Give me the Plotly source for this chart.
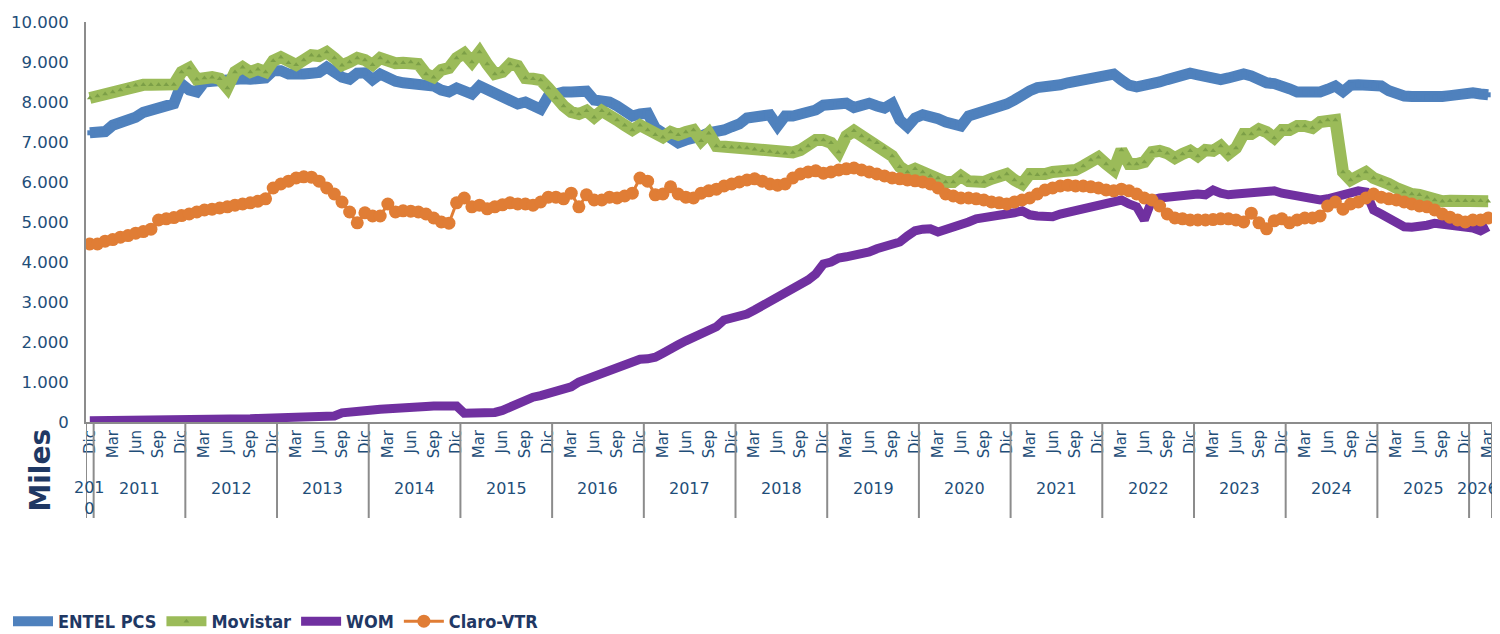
import plotly.graph_objects as go

# ---------------- data (thousands of lines, "Miles") ----------------
MONTHS = ["Ene", "Feb", "Mar", "Abr", "May", "Jun", "Jul", "Ago", "Sep", "Oct", "Nov", "Dic"]
YEARS = [2011, 2012, 2013, 2014, 2015, 2016, 2017, 2018, 2019, 2020, 2021, 2022, 2023, 2024, 2025]
periods = [("2010", "Dic")] + [(str(y), m) for y in YEARS for m in MONTHS] + [("2026", "Ene"), ("2026", "Feb"), ("2026", "Mar")]

entel = [7230,
         7250, 7260, 7420, 7470, 7560, 7620, 7740, 7810, 7860, 7910, 7960, 8450,
         8300, 8250, 8500, 8520, 8550, 8560, 8560, 8580, 8570, 8560, 8600, 8780,
         8780, 8700, 8680, 8700, 8720, 8740, 8870, 8700, 8620, 8570, 8720, 8730,
         8560, 8700, 8600, 8520, 8480, 8470, 8470, 8460, 8400, 8300, 8250, 8350,
         8300, 8200, 8400, 8320, 8250, 8150, 8050, 7950, 8000, 7900, 7820, 8150,
         8230, 8250, 8250, 8260, 8270, 8050, 8030, 8000, 7900, 7750, 7650, 7700,
         7720, 7350, 7200, 7050, 6980, 7050, 7080, 7150, 7230, 7250, 7300, 7380,
         7450, 7600, 7620, 7650, 7680, 7400, 7650, 7650, 7680, 7720, 7800, 7920,
         7950, 7960, 7970, 7860, 7900, 7970, 7900, 7850, 7960, 7550, 7380, 7600,
         7680, 7650, 7580, 7500, 7450, 7400, 7650, 7700, 7750, 7800, 7870, 7950,
         8050, 8200, 8280, 8360, 8380, 8350, 8430, 8480, 8520, 8560, 8620, 8630,
         8670, 8700, 8550, 8420, 8380, 8400, 8470, 8500, 8560, 8620, 8680, 8720,
         8680, 8620, 8600, 8560, 8600, 8650, 8700, 8650, 8560, 8480, 8460, 8420,
         8330, 8250, 8230, 8230, 8250, 8320, 8400, 8260, 8420, 8430, 8430, 8420,
         8400, 8280, 8180, 8150, 8140, 8130, 8120, 8120, 8140, 8160, 8200, 8240,
         8230, 8200, 8180]

movistar = [8100,
            8150, 8200, 8250, 8300, 8380, 8420, 8430, 8430, 8430, 8430, 8440, 8750,
            8850, 8570, 8600, 8620, 8580, 8350, 8750, 8870, 8750, 8820, 8750, 9030,
            9120, 8980, 8930, 9050, 9170, 9150, 9250, 9100, 8920, 9000, 9100, 9050,
            8930, 9100, 9000, 8970, 8980, 9000, 8950, 8700, 8620, 8800, 8850, 9100,
            9220, 9000, 9250, 8950, 8700, 8750, 8950, 8900, 8600, 8580, 8550, 8350,
            8100, 7900, 7750, 7700, 7780, 7620, 7780, 7700, 7550, 7420, 7300, 7420,
            7300, 7180, 7120, 7250, 7180, 7250, 7300, 7030, 7220, 6900, 6880, 6870,
            6870, 6850, 6820, 6780, 6760, 6730, 6720, 6740, 6800, 6900, 7050, 7050,
            6980, 6750, 7150, 7280, 7150, 7050, 6980, 6850, 6650, 6380, 6250, 6330,
            6250, 6150, 6100, 6000, 6000, 6150, 6020, 6000, 6000, 6080, 6120, 6200,
            6050, 5950, 6200, 6180, 6200, 6250, 6250, 6300, 6300, 6400, 6550, 6620,
            6450, 6300, 6800, 6450, 6450, 6500, 6750, 6780, 6720, 6600, 6700, 6780,
            6650, 6800, 6780, 6900, 6700, 6850, 7200, 7200, 7320, 7250, 7100, 7300,
            7300, 7400, 7400, 7350, 7500, 7550, 7550, 6250, 6050, 6150, 6250, 6100,
            6050, 5950, 5850, 5750, 5700, 5680, 5620, 5550, 5520, 5530, 5530, 5530,
            5530, 5530, 5520]

wom = [30,
       30, 35, 35, 40, 40, 40, 40, 45, 45, 45, 45, 50,
       50, 50, 55, 55, 60, 65, 70, 75, 80, 90, 95, 100,
       105, 110, 115, 120, 125, 130, 140, 150, 230, 260, 270, 280,
       300, 320, 340, 350, 360, 370, 380, 390, 400, 410, 410, 400,
       220, 220, 220, 230, 240, 290, 380, 450, 550, 620, 660, 720,
       760, 820, 880, 1000, 1070, 1130, 1200, 1250, 1320, 1400, 1480, 1570,
       1580, 1620, 1720, 1850, 1930, 2030, 2130, 2220, 2300, 2380, 2550, 2600,
       2630, 2700, 2800, 2900, 3000, 3100, 3250, 3350, 3450, 3550, 3700, 3950,
       4000, 4100, 4130, 4160, 4180, 4250, 4330, 4380, 4430, 4500, 4650, 4780,
       4820, 4830, 4750, 4800, 4850, 4900, 5000, 5080, 5100, 5130, 5170, 5200,
       5230, 5280, 5180, 5150, 5120, 5130, 5200, 5250, 5270, 5300, 5350, 5400,
       5450, 5500, 5550, 5450, 5380, 5050, 5550, 5600, 5620, 5650, 5680, 5720,
       5700, 5680, 5800, 5720, 5680, 5700, 5720, 5750, 5740, 5740, 5780, 5720,
       5680, 5650, 5620, 5580, 5550, 5580, 5620, 5680, 5720, 5780, 5750, 5300,
       5200, 5100, 4950, 4880, 4870, 4880, 4920, 4970, 4950, 4920, 4930, 4920,
       4850, 4780, 4880]

claro = [4450,
         4450, 4520, 4560, 4620, 4660, 4720, 4760, 4820, 5050, 5080, 5110, 5160,
         5200, 5250, 5300, 5320, 5350, 5380, 5420, 5450, 5480, 5520, 5580, 5850,
         5950, 6020, 6100, 6130, 6120, 6020, 5850, 5700, 5500, 5250, 4980, 5230,
         5150, 5150, 5450, 5250, 5280, 5270, 5250, 5200, 5100, 5000, 4970, 5480,
         5600, 5380, 5420, 5330, 5380, 5430, 5480, 5450, 5450, 5420, 5500, 5620,
         5620, 5580, 5720, 5380, 5680, 5550, 5550, 5620, 5600, 5650, 5720, 6100,
         6020, 5680, 5700, 5880, 5700, 5620, 5600, 5720, 5780, 5820, 5900, 5950,
         6000, 6050, 6080, 6020, 5950, 5920, 5950, 6100, 6200, 6250, 6280, 6220,
         6250, 6300, 6330, 6350, 6300, 6250, 6200, 6150, 6100, 6080, 6050, 6030,
         6000, 5950, 5850, 5700, 5650, 5600, 5600, 5580, 5550, 5500, 5480, 5450,
         5500, 5550, 5600, 5700, 5800, 5850, 5900, 5920, 5900, 5900, 5880, 5850,
         5800, 5780, 5820, 5780, 5700, 5600, 5550, 5400, 5200, 5100, 5080, 5050,
         5050, 5050, 5060, 5080, 5080, 5050, 5000, 5220, 4980, 4830, 5030, 5080,
         4980, 5050, 5100, 5100, 5150, 5400, 5500, 5320, 5450, 5500, 5600, 5700,
         5620, 5580, 5550, 5500, 5450, 5400, 5380, 5300, 5200, 5120, 5050, 5000,
         5050, 5050, 5100]

SHOWN_MONTHS = ["Dic", "Mar", "Jun", "Sep"]
YEAR_LABELS = ["201<br>0"] + [str(y) for y in YEARS] + ["2026"]

# ---------------- figure ----------------
idx = list(range(len(periods)))
NAVY = "#1F3864"
TICK = "#1F4E79"
AXIS = "#8C8C8C"

fig = go.Figure()
fig.add_trace(go.Scatter(x=idx, y=entel, name="ENTEL PCS", mode="lines+markers",
                         line=dict(color="#4F81BD", width=11),
                         marker=dict(symbol="square", size=5, color="#4F81BD")))
fig.add_trace(go.Scatter(x=idx, y=movistar, name="Movistar", mode="lines+markers",
                         line=dict(color="#9BBB59", width=12),
                         marker=dict(symbol="triangle-up", size=5, color="#7C9F47")))
fig.add_trace(go.Scatter(x=idx, y=wom, name="WOM", mode="lines",
                         line=dict(color="#7030A0", width=9)))
fig.add_trace(go.Scatter(x=idx, y=claro, name="Claro-VTR", mode="lines+markers",
                         line=dict(color="#E07D35", width=3),
                         marker=dict(symbol="circle", size=13, color="#E07D35")))

tickvals = [i for i, p in enumerate(periods) if p[1] in SHOWN_MONTHS]
ticktext = [periods[i][1] for i in tickvals]

# year groups
year_order = []
for i, p in enumerate(periods):
    if not year_order or year_order[-1][0] != p[0]:
        year_order.append([p[0], i, i])
    else:
        year_order[-1][2] = i

shapes = []
for k, (y, s, e) in enumerate(year_order):
    shapes.append(dict(type="line", xref="x", yref="paper", x0=s - 0.5, x1=s - 0.5,
                       y0=0, y1=-0.24, line=dict(color=AXIS, width=2)))
shapes.append(dict(type="line", xref="x", yref="paper", x0=len(periods) - 0.5, x1=len(periods) - 0.5,
                   y0=0, y1=-0.24, line=dict(color=AXIS, width=2)))

annotations = []
n_years = len(year_order)
for k, (y, s, e) in enumerate(year_order):
    if k == n_years - 1:
        annotations.append(dict(x=1.0057, y=-0.165, xref="paper", yref="paper",
                                text=YEAR_LABELS[k], showarrow=False,
                                font=dict(family="DejaVu Sans", size=16, color=TICK),
                                xanchor="right", yanchor="middle"))
    else:
        annotations.append(dict(x=(s + e) / 2, y=-0.165 if k > 0 else -0.19, xref="x", yref="paper",
                                text=YEAR_LABELS[k], showarrow=False,
                                font=dict(family="DejaVu Sans", size=16, color=TICK),
                                xanchor="center", yanchor="middle"))
annotations.append(dict(x=-0.033, y=-0.12, xref="paper", yref="paper", text="<b>Miles</b>",
                        textangle=-90, showarrow=False,
                        font=dict(family="DejaVu Sans", size=28, color=NAVY),
                        xanchor="center", yanchor="middle"))

# the page body adds an 8px offset; the figure is sized to fit the 1500x634 window
fig.update_layout(
    width=1492, height=626,
    margin=dict(l=78, r=8, t=14, b=212, autoexpand=False),
    paper_bgcolor="white", plot_bgcolor="white",
    separators=",.",
    showlegend=True,
    legend=dict(orientation="h", xref="container", yref="container",
                x=0.0, y=0.02, xanchor="left", yanchor="middle",
                font=dict(family="Liberation Sans Narrow, DejaVu Sans Condensed, sans-serif",
                          size=18, color=NAVY, weight="bold"),
                itemwidth=40, bgcolor="rgba(0,0,0,0)"),
    xaxis=dict(range=[-0.5, len(periods) - 0.5], tickmode="array", tickvals=tickvals,
               ticktext=ticktext, tickangle=-90, showgrid=False, zeroline=False,
               showline=True, linecolor=AXIS, linewidth=2, ticks="", automargin=False,
               tickfont=dict(family="DejaVu Sans", size=15, color=TICK)),
    yaxis=dict(range=[0, 10000], dtick=1000, tickformat=",d", showgrid=False,
               zeroline=False, showline=True, linecolor=AXIS, linewidth=2, ticks="",
               ticklabelstandoff=12, automargin=False,
               tickfont=dict(family="DejaVu Sans", size=16.5, color=TICK)),
    shapes=shapes, annotations=annotations,
)

fig.write_html("out.html")
